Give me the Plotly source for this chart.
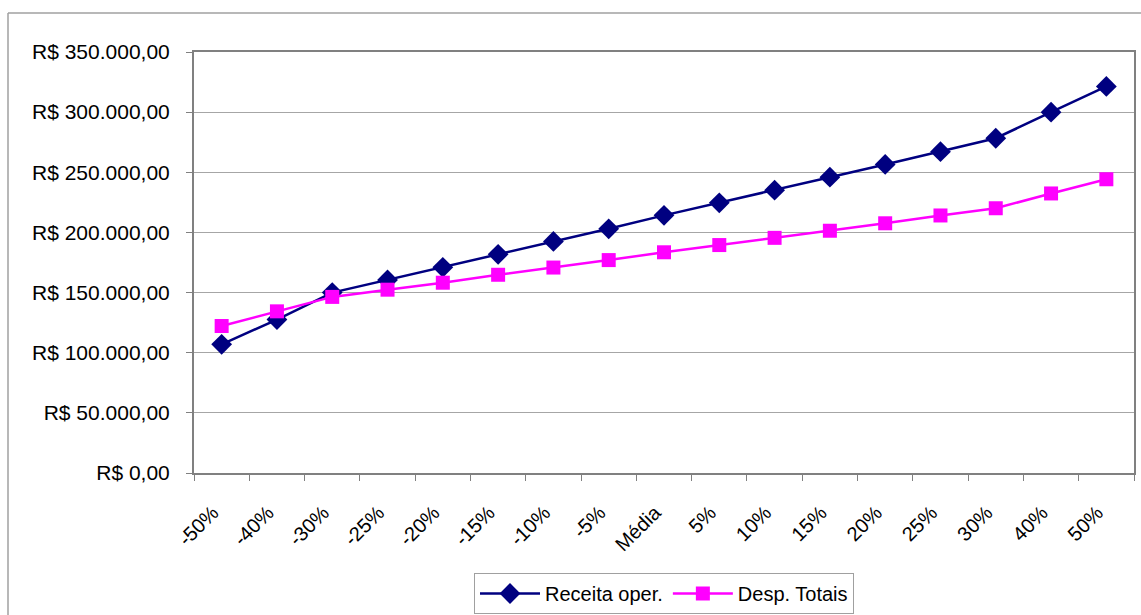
import plotly.graph_objects as go

# Sensitivity scenarios (variation relative to the average)
cenarios = ["-50%", "-40%", "-30%", "-25%", "-20%", "-15%", "-10%", "-5%", "Média",
            "5%", "10%", "15%", "20%", "25%", "30%", "40%", "50%"]

# Operating revenue per scenario (R$)
receita_oper = [107000, 127600, 150000, 160500, 171000, 181800, 192500, 203000, 214200,
                224600, 235100, 245900, 256500, 267100, 278300, 300000, 321400]

# Total expenses per scenario (R$)
desp_totais = [122200, 134400, 146400, 152400, 158200, 164800, 170800, 177000, 183500,
               189500, 195500, 201400, 207600, 214100, 220100, 232400, 244200]

FONT = "Liberation Sans, Arial, sans-serif"
GRID = "#a6a6a6"
FRAME = "#808080"
W, H = 1141, 615

fig = go.Figure()
fig.add_trace(go.Scatter(
    x=cenarios, y=receita_oper, name="Receita oper.",
    mode="lines+markers",
    line=dict(color="#000080", width=2.5),
    marker=dict(symbol="diamond", size=16, color="#000080"),
))
fig.add_trace(go.Scatter(
    x=cenarios, y=desp_totais, name="Desp. Totais",
    mode="lines+markers",
    line=dict(color="#ff00ff", width=2.5),
    marker=dict(symbol="square", size=14, color="#ff00ff"),
))

# Chart-area frame: top and left edges
L, R, T, B = 194, 1134, 52, 473
def px_x(v):
    return (v - L) / (R - L)
def px_y(v):
    return (B - v) / (B - T)

fig.add_shape(type="line", xref="paper", yref="paper",
              x0=px_x(8), x1=px_x(1145), y0=px_y(13), y1=px_y(13),
              line=dict(color="#a0a0a0", width=1.5))
fig.add_shape(type="line", xref="paper", yref="paper",
              x0=px_x(8), x1=px_x(8), y0=px_y(13), y1=px_y(620),
              line=dict(color="#a0a0a0", width=1.5))

fig.update_layout(
    width=W, height=H,
    margin=dict(l=L, r=W - R, t=T, b=H - B),
    paper_bgcolor="white", plot_bgcolor="white",
    separators=",.",
    font=dict(family=FONT, size=18, color="black"),
    showlegend=True,
    legend=dict(
        orientation="h",
        xref="container", x=664 / W, xanchor="center",
        yref="container", y=(H - 614) / H, yanchor="bottom",
        bordercolor="#a0a0a0", borderwidth=1, bgcolor="white",
        font=dict(family=FONT, size=20, color="black"),
        itemwidth=60, tracegroupgap=0,
    ),
    xaxis=dict(
        type="category", range=[-0.5, len(cenarios) - 0.5],
        tickson="boundaries", ticks="outside", ticklen=6, tickcolor=FRAME,
        tickangle=-45, tickfont=dict(family=FONT, size=20),
        ticklabelstandoff=18, ticklabelshift=-9,
        showline=True, linecolor=FRAME, linewidth=2, mirror=True,
        showgrid=False, zeroline=False, automargin=False,
    ),
    yaxis=dict(
        range=[0, 350000], dtick=50000,
        tickprefix="R$ ", tickformat=",.2f",
        ticks="outside", ticklen=6, tickcolor=FRAME,
        ticklabelstandoff=12,
        tickfont=dict(family=FONT, size=21),
        showline=True, linecolor=FRAME, linewidth=2, mirror=True,
        showgrid=True, gridcolor=GRID, gridwidth=1, zeroline=False, automargin=False,
    ),
)

fig.write_html("out.html")
